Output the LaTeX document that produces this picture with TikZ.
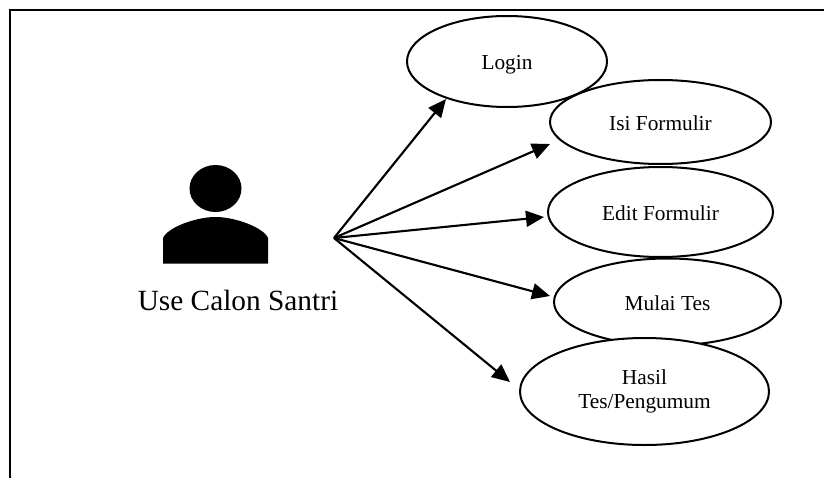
\documentclass[tikz,border=0pt]{standalone}
\usepackage{fontspec}
\setmainfont{Liberation Serif}
\usetikzlibrary{arrows.meta,shapes.geometric}
\tikzset{
  x=0.75pt,y=-0.75pt,
  usecase/.style={ellipse,draw=black,fill=white,line width=1.5pt,inner sep=0pt,outer sep=0pt,font=\fontsize{16}{18}\selectfont,text height=12pt,text depth=0pt},
  assoc/.style={line width=1.6pt,-{Triangle[length=13.5pt,width=12pt]}},
}
\begin{document}
\begin{tikzpicture}
\useasboundingbox (0,0) rectangle (824,478);
\draw[line width=1.6pt] (10,478) -- (10,10) -- (824,10);
% actor
\fill (215.5,188.5) ellipse [x radius=26,y radius=23.5];
\fill (163,263.5) -- (163,238) .. controls (167,228) and (195,217) .. (215.5,217) .. controls (236,217) and (264,228) .. (268,238) -- (268,263.5) -- cycle;
\node[font=\fontsize{22}{26}\selectfont,inner sep=0pt] (actor) at (238,300.5) {Use Calon Santri};
\coordinate (hub) at (334,238);
% use cases
\node[usecase,minimum width=150pt,minimum height=68.25pt] (login) at (507,61.5) {Login};
\node[usecase,minimum width=165.75pt,minimum height=63pt] (isi) at (660.5,122) {Isi Formulir};
\node[usecase,minimum width=168.75pt,minimum height=67.5pt] (edit) at (660.5,212) {Edit Formulir};
\node[usecase,minimum width=170.25pt,minimum height=65.25pt] (mulai) at (667.5,302) {Mulai Tes};
\node[usecase,minimum width=186.75pt,minimum height=80.25pt,align=center,text height=,text depth=] (hasil) at (644.5,391.5) {Hasil\\[0pt]Tes/Pengumum};
% connectors
\draw[assoc] (hub) -- ([shift={(-61,37.5)}]login.center);
\draw[assoc] (hub) -- ([shift={(0,22)}]isi.west);
\draw[assoc] (hub) -- ([shift={(-4,5)}]edit.west);
\draw[assoc] (hub) -- ([shift={(-4,-6)}]mulai.west);
\draw[assoc] (hub) -- ([shift={(-10,-9.5)}]hasil.west);
\end{tikzpicture}
\end{document}
